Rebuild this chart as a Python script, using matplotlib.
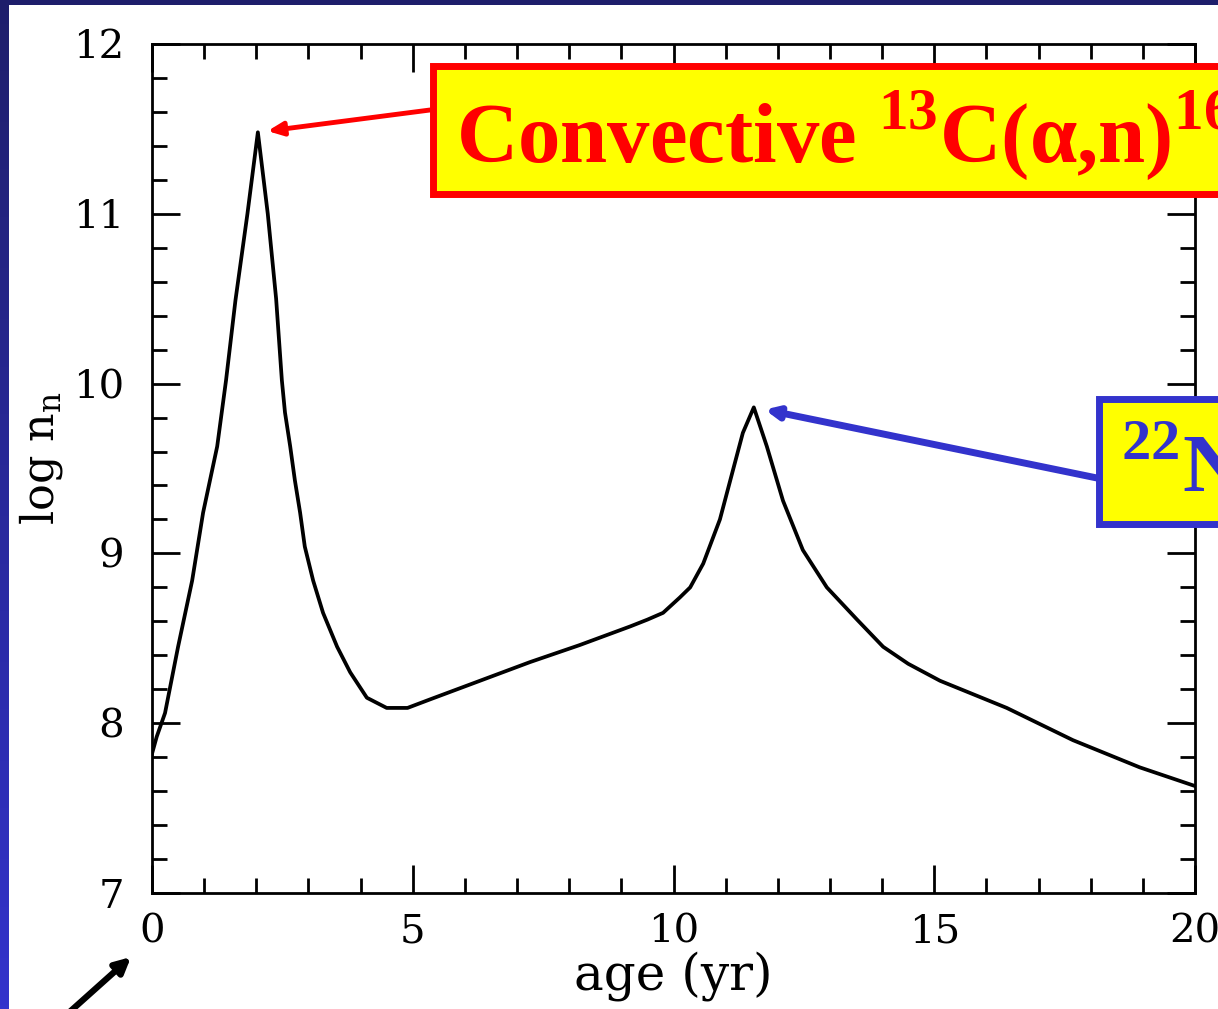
import numpy as np
import matplotlib
matplotlib.use("Agg")
import matplotlib.pyplot as plt
from matplotlib.patches import Rectangle
from matplotlib.ticker import MultipleLocator

# ---- data ----
age = [0.0, 0.09, 0.25, 0.50, 0.77, 0.98, 1.25, 1.42, 1.60, 1.83, 2.03,
       2.22, 2.38, 2.49, 2.55, 2.65, 2.74, 2.84, 2.93, 3.09, 3.28, 3.55,
       3.80, 4.12, 4.50, 4.90, 5.33, 6.29, 7.25, 8.20, 9.17, 9.50, 9.80, 10.12,
       10.32, 10.57, 10.89, 11.14, 11.33, 11.54, 11.79, 12.10, 12.48, 12.94,
       13.52, 14.02, 14.50, 15.11, 16.39, 17.66, 18.94, 20.0]
logn = [7.82, 7.92, 8.06, 8.45, 8.84, 9.24, 9.63, 10.02, 10.49, 11.00, 11.48,
        11.00, 10.50, 10.02, 9.83, 9.63, 9.43, 9.24, 9.04, 8.84, 8.65, 8.45,
        8.30, 8.15, 8.09, 8.09, 8.14, 8.25, 8.36, 8.46, 8.57, 8.61, 8.65, 8.74,
        8.80, 8.94, 9.20, 9.49, 9.71, 9.86, 9.63, 9.31, 9.02, 8.80,
        8.61, 8.45, 8.35, 8.25, 8.09, 7.90, 7.74, 7.63]
xticks = [0, 5, 10, 15, 20]
yticks = [7, 8, 9, 10, 11, 12]
xlabel = "age (yr)"
ylabel = r"log n$_{\rm n}$"
label_c13 = r"Convective $^{\bf 13}$C(α,n)$^{\bf 16}$O"
label_ne22 = r"$^{\bf 22}$Ne(α,n)$^{\bf 25}$Mg"

W, H = 1218, 1009
plt.rcParams["mathtext.fontset"] = "custom"
plt.rcParams["mathtext.rm"] = "DejaVu Serif"
plt.rcParams["mathtext.bf"] = "Liberation Serif:bold"

fig = plt.figure(figsize=(W / 100, H / 100), dpi=100)
fig.patch.set_facecolor("white")

def fx(px):
    return px / W

def fy(py):
    return 1 - py / H

# background: blue slide frame
bg = fig.add_axes([0, 0, 1, 1], zorder=-10)
grad = np.linspace(0, 1, 256).reshape(-1, 1)
top_c = np.array([0.12, 0.12, 0.42])
bot_c = np.array([0.20, 0.20, 0.80])
img = top_c[None, None, :] * (1 - grad[:, :, None]) + bot_c[None, None, :] * grad[:, :, None]
bg.imshow(img, aspect="auto", extent=[0, 1, 0, 1], origin="upper")
bg.add_patch(Rectangle((fx(9), 0), 1, fy(5), transform=bg.transAxes,
                       facecolor="white", edgecolor="none"))
bg.set_xlim(0, 1)
bg.set_ylim(0, 1)
bg.axis("off")

ax = fig.add_axes([fx(152), fy(893), fx(1195) - fx(152), fy(44) - fy(893)])
ax.set_facecolor("none")
ax.plot(age, logn, color="black", lw=2.7, solid_joinstyle="round")
ax.set_xlim(0, 20)
ax.set_ylim(7, 12)
ax.set_xticks(xticks)
ax.set_yticks(yticks)
ax.xaxis.set_minor_locator(MultipleLocator(1))
ax.yaxis.set_minor_locator(MultipleLocator(0.2))
for s in ax.spines.values():
    s.set_linewidth(2.0)
ax.tick_params(which="both", direction="in", top=True, right=True, width=2.0, color="black")
ax.tick_params(which="major", length=20)
ax.tick_params(which="minor", length=10.5)
ax.tick_params(axis="y", which="major", pad=20)
ax.tick_params(axis="x", which="major", pad=15)
for lab in ax.get_xticklabels() + ax.get_yticklabels():
    lab.set_fontfamily("DejaVu Serif")
    lab.set_fontsize(29)
ax.set_xlabel(xlabel, fontfamily="DejaVu Serif", fontsize=36, labelpad=0)
ax.set_ylabel(ylabel, fontfamily="DejaVu Serif", fontsize=32)
ax.yaxis.set_label_coords(-0.083, 0.512)

# ---- annotations ----
yellow = "#ffff00"
red = "#ff0000"
blue = "#3333cc"

fig.patches.append(Rectangle((fx(432.5), fy(193.5)), fx(1240) - fx(432.5), fy(65.5) - fy(193.5),
                             transform=fig.transFigure, facecolor=yellow,
                             edgecolor=red, lw=5.0, zorder=5))
fig.text(fx(456), fy(162), label_c13, color=red, fontfamily="Liberation Serif",
         fontweight="bold", fontsize=61, ha="left", va="baseline", zorder=6)

fig.patches.append(Rectangle((fx(1098.5), fy(523.5)), fx(1240) - fx(1098.5), fy(398.5) - fy(523.5),
                             transform=fig.transFigure, facecolor=yellow,
                             edgecolor=blue, lw=5.0, zorder=5))
fig.text(fx(1121), fy(492), label_ne22, color=blue, fontfamily="Liberation Serif",
         fontweight="bold", fontsize=60, ha="left", va="baseline", zorder=6)

i1 = int(np.argmax(logn[:20]))
i2 = 20 + int(np.argmax(logn[20:]))
ax.annotate("", xy=(age[i1], logn[i1]), xytext=(fx(430), fy(110)),
            textcoords="figure fraction", xycoords="data",
            arrowprops=dict(arrowstyle="-|>,head_length=0.9,head_width=0.4",
                            color=red, lw=3.5, shrinkA=0, shrinkB=7),
            annotation_clip=False, zorder=4)
ax.annotate("", xy=(age[i2], logn[i2]), xytext=(fx(1097), fy(478)),
            textcoords="figure fraction", xycoords="data",
            arrowprops=dict(arrowstyle="-|>,head_length=0.75,head_width=0.35",
                            color=blue, lw=5.0, shrinkA=0, shrinkB=8),
            annotation_clip=False, zorder=4)
ax.annotate("", xy=(fx(131), fy(957)), xytext=(fx(55), fy(1025)),
            xycoords="figure fraction", textcoords="figure fraction",
            arrowprops=dict(arrowstyle="-|>,head_length=0.9,head_width=0.45",
                            color="black", lw=4.5, shrinkA=0, shrinkB=0),
            annotation_clip=False, zorder=4)

fig.savefig("out.png", dpi=100, facecolor=fig.get_facecolor())
